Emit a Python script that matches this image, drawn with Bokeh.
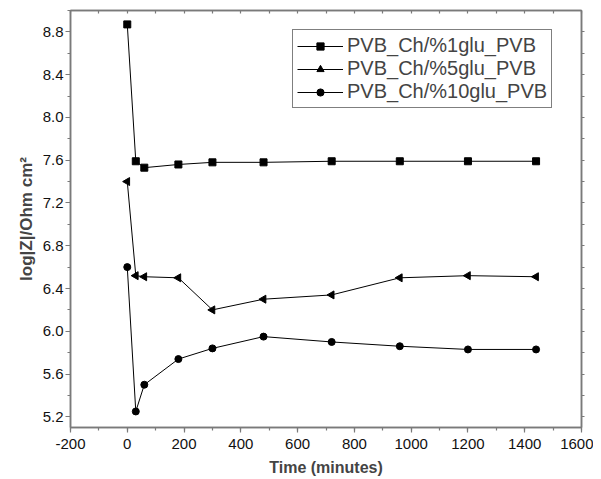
import numpy as np
from bokeh.plotting import figure
from bokeh.models import (LinearAxis, Legend, LegendItem, Range1d,
                          SingleIntervalTicker, FixedTicker, NumeralTickFormatter)
from bokeh.embed import file_html
from bokeh.resources import INLINE

time_min = [0, 30, 60, 180, 300, 480, 720, 960, 1200, 1440]
glu1 = [8.87, 7.59, 7.53, 7.56, 7.58, 7.58, 7.59, 7.59, 7.59, 7.59]
glu5 = [7.40, 6.52, 6.51, 6.50, 6.20, 6.30, 6.34, 6.50, 6.52, 6.51]
glu10 = [6.60, 5.25, 5.50, 5.74, 5.84, 5.95, 5.90, 5.86, 5.83, 5.83]
names = ["PVB_Ch/%1glu_PVB", "PVB_Ch/%5glu_PVB", "PVB_Ch/%10glu_PVB"]

FONT = "Liberation Sans"
AX = "#7a7a7a"
X0, X1, Y0, Y1 = -200, 1600, 5.1, 9.0

p = figure(frame_width=511, frame_height=417, output_backend="svg",
           toolbar_location=None, x_range=Range1d(X0, X1),
           y_range=Range1d(Y0, Y1), min_border_left=70, min_border_right=12,
           min_border_top=10, min_border_bottom=50)
p.xgrid.visible = False
p.ygrid.visible = False
p.outline_line_color = AX
p.outline_line_width = 1.5

def style(ax):
    ax.axis_line_color = AX
    ax.axis_line_width = 1.5
    ax.major_tick_line_color = AX
    ax.minor_tick_line_color = AX
    ax.major_tick_line_width = 1.2
    ax.minor_tick_line_width = 1.2
    ax.major_tick_out = 5
    ax.major_tick_in = 0
    ax.minor_tick_out = 3
    ax.minor_tick_in = 0
    ax.major_label_text_font = FONT
    ax.major_label_text_font_size = "15px"
    ax.major_label_text_color = "#111111"

p.xaxis.ticker = SingleIntervalTicker(interval=200, num_minor_ticks=2)
p.yaxis.ticker = SingleIntervalTicker(interval=0.4, num_minor_ticks=2)
p.xaxis.formatter = NumeralTickFormatter(format="0")
p.yaxis.formatter = NumeralTickFormatter(format="0.0")
style(p.xaxis[0]); style(p.yaxis[0])
p.xaxis.axis_label = "Time (minutes)"
p.yaxis.axis_label = "log|Z|/Ohm cm²"
p.xaxis.axis_label_text_font_size = "16px"
p.yaxis.axis_label_text_font_size = "17px"
for ax in (p.xaxis[0], p.yaxis[0]):
    ax.axis_label_text_font = FONT
    ax.axis_label_text_font_style = "bold"
p.xaxis.axis_label_standoff = 7
p.yaxis.axis_label_standoff = 4
p.xaxis.major_label_standoff = 6
p.yaxis.major_label_standoff = 2

# top / right axes: tick marks only (no labels)
top = LinearAxis(ticker=FixedTicker(ticks=[], minor_ticks=list(np.arange(X0, X1 + 1, 100))))
right = LinearAxis(ticker=FixedTicker(ticks=[], minor_ticks=list(np.round(np.arange(5.2, Y1, 0.2), 2))))
for ax in (top, right):
    ax.axis_line_color = AX
    ax.axis_line_width = 1.5
    ax.minor_tick_line_color = AX
    ax.minor_tick_line_width = 1.2
top.minor_tick_out = 0; top.minor_tick_in = 3
right.minor_tick_out = 3; right.minor_tick_in = 0
p.add_layout(top, "above")
p.add_layout(right, "right")

r1 = p.line(time_min, glu1, color="black", line_width=1)
m1 = p.scatter(time_min, glu1, marker="square", size=7, color="black")
r2 = p.line(time_min, glu5, color="black", line_width=1)
m2 = p.scatter(time_min, glu5, marker="triangle", angle=1.5708, size=8, color="black")
r3 = p.line(time_min, glu10, color="black", line_width=1)
m3 = p.scatter(time_min, glu10, marker="circle", size=7, color="black")

legend = Legend(items=[LegendItem(label=names[0], renderers=[r1, m1]),
                       LegendItem(label=names[1], renderers=[r2, m2]),
                       LegendItem(label=names[2], renderers=[r3, m3])],
                location=(222, 319))
legend.label_text_font = FONT
legend.label_text_font_size = "20px"
legend.label_height = 18
legend.glyph_height = 18
legend.glyph_width = 46
legend.spacing = 0
legend.padding = 4
legend.margin = 0
legend.label_standoff = 4
legend.border_line_color = "black"
legend.border_line_width = 1
legend.background_fill_alpha = 1
p.add_layout(legend)

open("out.html", "w").write(file_html(p, INLINE))
